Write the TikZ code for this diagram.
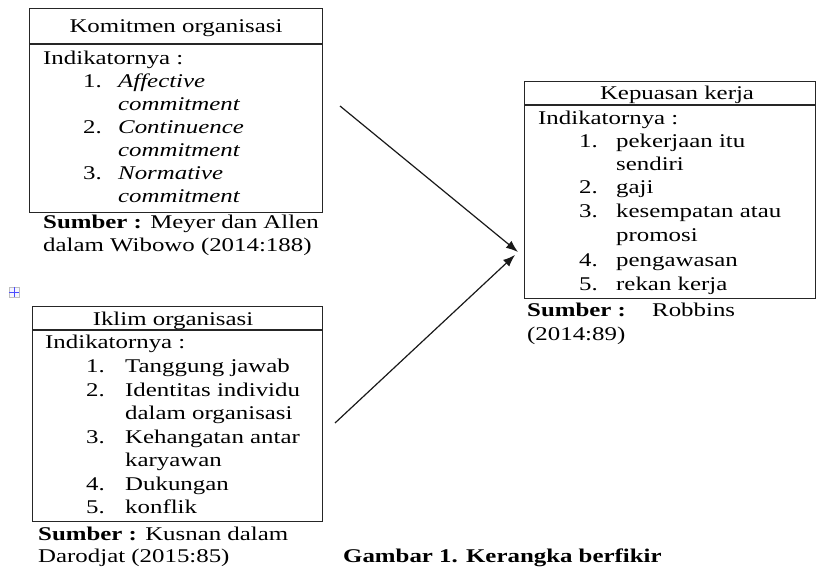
\documentclass[tikz,border=0pt]{standalone}
\usepackage{fontspec}
\setmainfont{Liberation Serif}[FakeStretch=1.28]
\usetikzlibrary{arrows.meta}
\begin{document}
\begin{tikzpicture}[x=1bp,y=-1bp,
  font=\fontsize{19.5}{23}\selectfont,
  box/.style={draw=black!85, line width=1.3bp, inner sep=0, anchor=north west},
  txt/.style={anchor=base west, inner sep=0},
  hd/.style={anchor=base, inner sep=0},
  arr/.style={-{Latex[length=12bp,width=9bp]}, line width=1.2bp, draw=black!90}]
\useasboundingbox (0,0) rectangle (816,571);

% ---------- Box 1 ----------
\node[box, minimum width=293bp, minimum height=204bp] (b1) at (29,8) {};
\draw[line width=1.3bp, draw=black!85] (b1.west |- 0,44) -- (b1.east |- 0,44);
\node[hd] (b1h) at (176,33) {Komitmen organisasi};
\node[txt] (b1i) at (43,65) {Indikatornya :};
\node[txt] (b1n1) at (83,88) {1.};
\node[txt] (b1t1) at (118,88) {\itshape Affective};
\node[txt] (b1t1b) at (118,111) {\itshape commitment};
\node[txt] (b1n2) at (83,134) {2.};
\node[txt] (b1t2) at (118,134) {\itshape Continuence};
\node[txt] (b1t2b) at (118,157) {\itshape commitment};
\node[txt] (b1n3) at (83,180) {3.};
\node[txt] (b1t3) at (118,180) {\itshape Normative};
\node[txt] (b1t3b) at (118,203) {\itshape commitment};
\node[txt] (s1a) at (43,229) {\textbf{Sumber :} Meyer dan Allen};
\node[txt] (s1b) at (43,251) {dalam Wibowo (2014:188)};

% ---------- Box 2 ----------
\node[box, minimum width=290bp, minimum height=215bp] (b2) at (32,306) {};
\draw[line width=1.3bp, draw=black!85] (b2.west |- 0,330) -- (b2.east |- 0,330);
\node[hd] (b2h) at (173,325) {Iklim organisasi};
\node[txt] (b2i) at (45,348) {Indikatornya :};
\node[txt] (b2n1) at (86,372) {1.};
\node[txt] (b2t1) at (125,372) {Tanggung jawab};
\node[txt] (b2n2) at (86,396) {2.};
\node[txt] (b2t2) at (125,396) {Identitas individu};
\node[txt] (b2t2b) at (125,419) {dalam organisasi};
\node[txt] (b2n3) at (86,443) {3.};
\node[txt] (b2t3) at (125,443) {Kehangatan antar};
\node[txt] (b2t3b) at (125,466) {karyawan};
\node[txt] (b2n4) at (86,490) {4.};
\node[txt] (b2t4) at (125,490) {Dukungan};
\node[txt] (b2n5) at (86,513) {5.};
\node[txt] (b2t5) at (125,513) {konflik};
\node[txt] (s2a) at (38,540) {\textbf{Sumber :} Kusnan dalam};
\node[txt] (s2b) at (38,562) {Darodjat (2015:85)};

% ---------- Box 3 ----------
\node[box, minimum width=291bp, minimum height=217bp] (b3) at (524,81) {};
\draw[line width=1.3bp, draw=black!85] (b3.west |- 0,105) -- (b3.east |- 0,105);
\node[hd] (b3h) at (677,100) {Kepuasan kerja};
\node[txt] (b3i) at (538,125) {Indikatornya :};
\node[txt] (b3n1) at (579,148) {1.};
\node[txt] (b3t1) at (616,148) {pekerjaan itu};
\node[txt] (b3t1b) at (616,171) {sendiri};
\node[txt] (b3n2) at (579,194) {2.};
\node[txt] (b3t2) at (616,194) {gaji};
\node[txt] (b3n3) at (579,218) {3.};
\node[txt] (b3t3) at (616,218) {kesempatan atau};
\node[txt] (b3t3b) at (616,242) {promosi};
\node[txt] (b3n4) at (579,266) {4.};
\node[txt] (b3t4) at (616,266) {pengawasan};
\node[txt] (b3n5) at (579,290) {5.};
\node[txt] (b3t5) at (616,290) {rekan kerja};
\node[txt] (s3a) at (527,316) {\textbf{Sumber :}};
\node[txt] (s3r) at (652,316) {Robbins};
\node[txt] (s3b) at (527,340) {(2014:89)};

% ---------- arrows ----------
\coordinate (a1) at (340,106);
\coordinate (a2) at (335,423);
\coordinate (t1) at (518,252);
\coordinate (t2) at (515,255);
\draw[arr] (a1) -- (t1);
\draw[arr] (a2) -- (t2);

% ---------- table handle icon ----------
\node[draw=black!25, fill=blue!4, minimum size=10bp, inner sep=0] (ico) at (14,292) {};
\draw[blue!70, line width=0.8bp] (ico.west) -- (ico.east) (ico.north) -- (ico.south);

% ---------- caption ----------
\node[txt, font=\fontsize{19.5}{23}\selectfont\bfseries] (cap) at (343,562) {Gambar 1. Kerangka berfikir};
\end{tikzpicture}
\end{document}
